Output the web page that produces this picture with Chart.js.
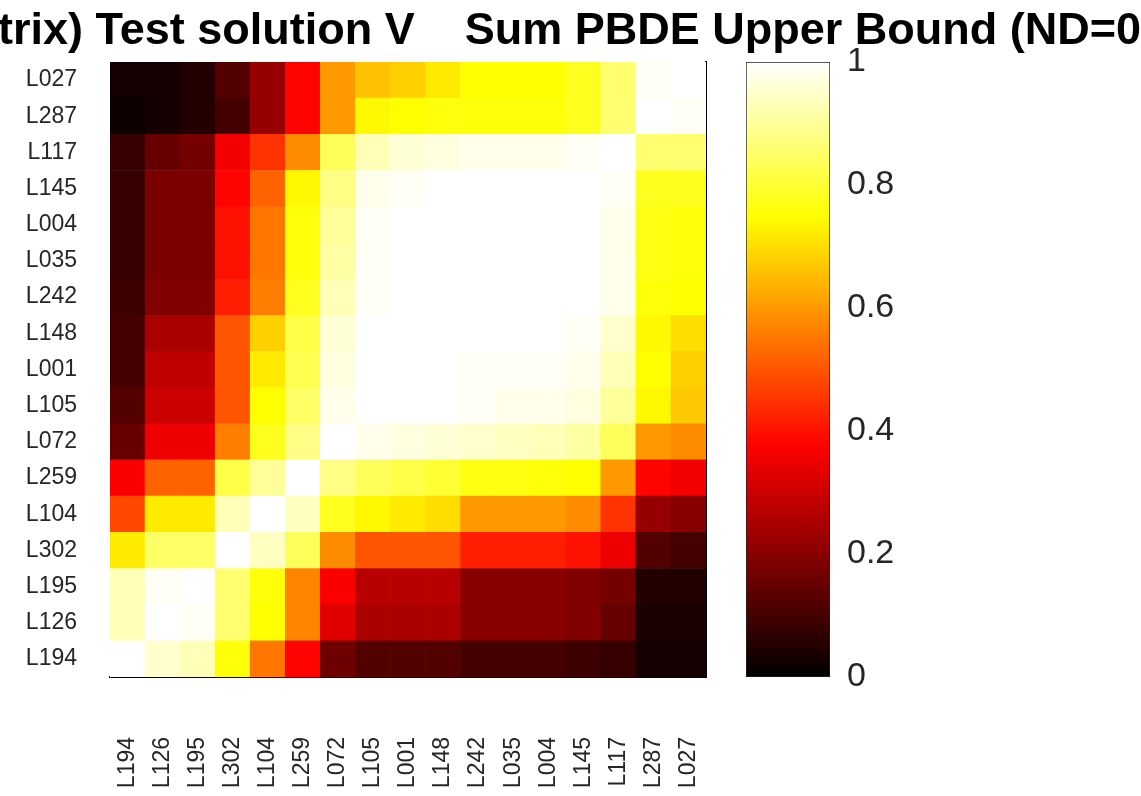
<!DOCTYPE html>
<html>
<head>
<meta charset="utf-8">
<script src="https://cdn.jsdelivr.net/npm/chart.js@4.4.0/dist/chart.umd.min.js"></script>
<style>
  html, body { margin: 0; padding: 0; background: #fff; overflow: hidden; }
  #wrap { position: relative; width: 1141px; height: 796px; overflow: hidden; }
  #title { position: absolute; left: -2px; top: 5px; white-space: pre; font: bold 45px 'Liberation Sans', Arial, sans-serif; line-height: 47px; color: #000; }
  #heat { position: absolute; left: 0; top: 0; }
  #cbar { position: absolute; left: 700px; top: 0; }
</style>
</head>
<body>
<div id="wrap">
  <canvas id="heat" width="1141" height="796"></canvas>
  <canvas id="cbar" width="300" height="796"></canvas>
  <div id="title">trix) Test solution V    Sum PBDE Upper Bound (ND=0)</div>
</div>
<script>
// column order, left to right
const colLabels = ['L194', 'L126', 'L195', 'L302', 'L104', 'L259', 'L072', 'L105', 'L001',
  'L148', 'L242', 'L035', 'L004', 'L145', 'L117', 'L287', 'L027'];
// row order, top to bottom
const rowLabels = ['L027', 'L287', 'L117', 'L145', 'L004', 'L035', 'L242', 'L148', 'L001',
  'L105', 'L072', 'L259', 'L104', 'L302', 'L195', 'L126', 'L194'];

// correlation values per row (columns follow colLabels)
const rL027 = [0.03, 0.03, 0.05, 0.12, 0.22, 0.38, 0.60, 0.66, 0.68, 0.72, 0.75, 0.75, 0.75, 0.78, 0.86, 0.99, 1.00];
const rL287 = [0.02, 0.03, 0.05, 0.10, 0.22, 0.38, 0.60, 0.74, 0.75, 0.76, 0.76, 0.76, 0.76, 0.78, 0.86, 1.00, 0.99];
const rL117 = [0.08, 0.15, 0.17, 0.36, 0.45, 0.58, 0.84, 0.93, 0.96, 0.97, 0.98, 0.98, 0.98, 0.99, 1.00, 0.86, 0.86];
const rL145 = [0.08, 0.18, 0.18, 0.38, 0.52, 0.74, 0.88, 0.98, 0.99, 1.00, 1.00, 1.00, 1.00, 1.00, 0.99, 0.78, 0.78];
const rL004 = [0.08, 0.18, 0.18, 0.40, 0.55, 0.76, 0.90, 0.99, 1.00, 1.00, 1.00, 1.00, 1.00, 1.00, 0.98, 0.77, 0.76];
const rL035 = [0.08, 0.18, 0.18, 0.40, 0.55, 0.76, 0.91, 0.99, 1.00, 1.00, 1.00, 1.00, 1.00, 1.00, 0.98, 0.77, 0.76];
const rL242 = [0.09, 0.19, 0.19, 0.42, 0.56, 0.78, 0.93, 0.99, 1.00, 1.00, 1.00, 1.00, 1.00, 1.00, 0.98, 0.76, 0.75];
const rL148 = [0.10, 0.25, 0.25, 0.50, 0.68, 0.82, 0.96, 1.00, 1.00, 1.00, 1.00, 1.00, 1.00, 0.99, 0.95, 0.74, 0.70];
const rL001 = [0.10, 0.28, 0.28, 0.50, 0.72, 0.83, 0.97, 1.00, 1.00, 1.00, 0.99, 0.99, 0.99, 0.98, 0.93, 0.75, 0.68];
const rL105 = [0.12, 0.30, 0.30, 0.50, 0.75, 0.85, 0.98, 1.00, 1.00, 1.00, 0.99, 0.98, 0.98, 0.97, 0.90, 0.74, 0.67];
const rL072 = [0.15, 0.35, 0.35, 0.56, 0.78, 0.88, 1.00, 0.98, 0.97, 0.96, 0.95, 0.94, 0.93, 0.91, 0.84, 0.60, 0.58];
const rL259 = [0.37, 0.52, 0.52, 0.82, 0.90, 1.00, 0.88, 0.84, 0.82, 0.80, 0.77, 0.77, 0.76, 0.75, 0.60, 0.38, 0.36];
const rL104 = [0.48, 0.72, 0.72, 0.93, 1.00, 0.94, 0.78, 0.74, 0.72, 0.70, 0.60, 0.60, 0.60, 0.58, 0.45, 0.22, 0.20];
const rL302 = [0.72, 0.85, 0.85, 1.00, 0.94, 0.84, 0.58, 0.50, 0.50, 0.50, 0.42, 0.42, 0.42, 0.40, 0.35, 0.12, 0.10];
const rL195 = [0.93, 0.99, 1.00, 0.86, 0.76, 0.57, 0.37, 0.27, 0.27, 0.27, 0.20, 0.20, 0.20, 0.19, 0.17, 0.05, 0.05];
const rL126 = [0.93, 1.00, 0.99, 0.86, 0.75, 0.57, 0.33, 0.25, 0.25, 0.25, 0.20, 0.20, 0.20, 0.19, 0.15, 0.04, 0.04];
const rL194 = [1.00, 0.95, 0.93, 0.76, 0.55, 0.38, 0.16, 0.12, 0.12, 0.12, 0.10, 0.10, 0.10, 0.09, 0.08, 0.03, 0.03];

const corrRows = [rL027, rL287, rL117, rL145, rL004, rL035, rL242, rL148, rL001,
  rL105, rL072, rL259, rL104, rL302, rL195, rL126, rL194];

const cbarTicks = [0, 0.2, 0.4, 0.6, 0.8, 1];

const FONT = "'Liberation Sans', Arial, sans-serif";
const TICK_COLOR = '#262626';

// MATLAB "hot" colormap
function clamp01(x) { return Math.max(0, Math.min(1, x)); }
function hot(v) {
  const r = clamp01(v / 0.375);
  const g = clamp01((v - 0.375) / 0.375);
  const b = clamp01((v - 0.75) / 0.25);
  return `rgb(${Math.round(r * 255)}, ${Math.round(g * 255)}, ${Math.round(b * 255)})`;
}

// one stacked dataset per row, bottom row first
const nRows = rowLabels.length;
const datasets = rowLabels.slice().reverse().map((name, k) => {
  const vals = corrRows[nRows - 1 - k];
  return {
    label: name,
    data: colLabels.map(() => 1),
    backgroundColor: vals.map(hot),
    borderWidth: 0,
    barPercentage: 1,
    categoryPercentage: 1
  };
});

new Chart(document.getElementById('heat'), {
  type: 'bar',
  data: { labels: colLabels, datasets },
  options: {
    responsive: false,
    animation: false,
    layout: { padding: { left: 0, top: 62, right: 435, bottom: 0 } },
    plugins: { legend: { display: false }, tooltip: { enabled: false } },
    scales: {
      x: {
        stacked: true,
        grid: { display: false, drawTicks: false },
        border: { display: true, color: '#000', width: 2 },
        ticks: {
          autoSkip: false, minRotation: 90, maxRotation: 90, padding: 60,
          color: TICK_COLOR, font: { family: FONT, size: 23 }
        },
        afterFit: a => { a.height = 119; }
      },
      y: {
        stacked: true,
        min: 0,
        max: nRows,
        grid: { display: false, drawTicks: false },
        border: { display: true, color: '#777', width: 1 },
        afterBuildTicks: a => { a.ticks = rowLabels.map((_, i) => ({ value: i + 0.5 })); },
        ticks: {
          padding: 33,
          color: TICK_COLOR,
          font: { family: FONT, size: 23 },
          callback: (v, i) => rowLabels[nRows - 1 - i]
        },
        afterFit: a => { a.width = 110; }
      },
      yRight: {
        position: 'right',
        min: 0,
        max: nRows,
        grid: { display: false, drawTicks: false },
        ticks: { display: false },
        border: { display: true, color: '#000', width: 2 },
        afterFit: a => { a.width = 0; }
      }
    }
  }
});

// colorbar
function hotGradient(ctx) {
  const chart = ctx.chart;
  const area = chart.chartArea;
  if (!area) return null;
  const g = chart.ctx.createLinearGradient(0, area.bottom, 0, area.top);
  g.addColorStop(0, '#000');
  g.addColorStop(0.375, '#f00');
  g.addColorStop(0.75, '#ff0');
  g.addColorStop(1, '#fff');
  return g;
}

new Chart(document.getElementById('cbar'), {
  type: 'bar',
  data: {
    labels: [''],
    datasets: [{
      data: [[cbarTicks[0], cbarTicks[cbarTicks.length - 1]]],
      backgroundColor: hotGradient,
      borderColor: '#222',
      borderWidth: 1,
      borderSkipped: false,
      barPercentage: 1,
      categoryPercentage: 1
    }]
  },
  options: {
    responsive: false,
    animation: false,
    layout: { padding: { left: 46, top: 62, right: 0, bottom: 119 } },
    plugins: { legend: { display: false }, tooltip: { enabled: false } },
    scales: {
      x: { display: false },
      y: {
        position: 'right',
        min: 0,
        max: 1,
        grid: { display: false, drawTicks: false },
        border: { display: false },
        afterBuildTicks: a => { a.ticks = cbarTicks.map(v => ({ value: v })); },
        ticks: {
          padding: 17,
          color: TICK_COLOR,
          font: { family: FONT, size: 34 },
          callback: v => String(v)
        },
        afterFit: a => { a.width = 170; }
      }
    }
  }
});
</script>
</body>
</html>
